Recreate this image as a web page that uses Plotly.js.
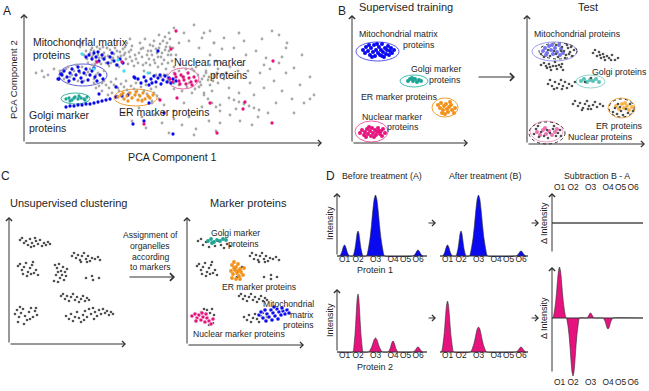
<!DOCTYPE html>
<html>
<head>
<meta charset="utf-8">
<script src="https://cdn.plot.ly/plotly-3.0.1.min.js"></script>
<style>
  html, body { margin: 0; padding: 0; background: #fff; }
  #chart { width: 649px; height: 391px; }
</style>
</head>
<body>
<div id="chart"></div>
<script>
// ---------------- Panel A: PCA of all proteins (PC1, PC2 scores) ----------------
const A_OTHER = [
  [60,88],[63,84],[66,90],[68,86],[70,92],[72,82],[74,88],[76,94],[78,85],[80,90],[82,80],[84,87],[86,93],[88,83],[90,89],[92,78],[94,86],[96,91],[98,81],[100,88],[102,84],[104,79],[106,86],[108,82],[71,79],[77,79],[85,77],[95,76],[62,92],[68,95],[83,95],[91,95],[99,94],[105,91],[110,77],[112,84],[103,100],[106,104],[108,97],[101,96],
  [64,80],[67,93],[73,96],[79,96],[87,80],[93,92],[97,87],[101,90],[89,85],[81,86],[75,85],[69,88],[107,93],[111,88],[114,80],
  [116,100],[119,95],[121,104],[124,92],[126,98],[128,88],[130,102],[132,94],[134,86],[136,99],[138,90],[140,83],[142,96],[144,88],[146,104],[145,110],[146,96],[145,92],[118,86],[122,80],[126,78],[130,83],[134,76],[138,79],[142,74],[120,72],[126,70],[132,68],[137,66],[143,68],[148,82],[150,76],[152,88],[155,72],[147,60],[115,90],
  [117,94],[123,88],[127,92],[129,97],[133,90],[135,95],[139,102],[141,93],[143,100],[137,86],[131,80],[125,84],[119,78],[144,80],[147,88],[149,95],[141,106],[135,108],
  [38,70],[42,74],[46,66],[50,72],[54,62],[58,76],[62,68],[66,74],[70,64],[74,70],[78,60],[44,60],[52,78],[60,62],[68,78],[80,72],
  [40,64],[48,68],[56,70],[64,71],[72,68],[36,72],[44,76],
  [70,60],[75,57],[80,62],[85,55],[90,58],[95,52],[100,56],[105,50],[110,54],[115,48],[120,52],[125,46],[130,50],[135,44],[78,52],[88,50],[98,48],[108,45],[118,43],[128,42],[92,64],[102,62],[112,60],[122,58],[132,56],
  [72,55],[82,58],[87,61],[94,55],[97,59],[103,53],[107,57],[113,52],[117,56],[123,49],[127,54],[133,47],[84,48],[93,47],
  [140,68],[145,62],[150,70],[155,58],[160,66],[165,60],[170,72],[175,56],[178,64],[182,70],[186,58],[190,66],[158,52],[168,50],[180,50],[188,52],[150,54],[194,60],[198,68],[172,76],[162,74],
  [176,61],[180,67],[184,63],[174,68],[168,74],[163,56],[171,54],[177,58],[185,66],[189,62],[193,70],
  [182,72],[186,78],[190,68],[194,74],[198,80],[202,70],[206,76],[210,66],[200,64],[192,82],[214,72],[218,78],
  [180,110],[190,100],[200,105],[210,95],[222,88],[232,92],[242,85],[255,80],[262,95],[270,75],[278,88],[286,66],[262,70],[250,62],[240,55],[230,48],[220,40],[212,34],[205,45],[196,38],[226,60],[236,70],[246,74],[258,52],[268,44],[276,58],[252,40],[244,30],[234,26],[228,18],[216,22],[206,28],[196,20],[270,30],[280,40],[290,48],[263,100],[255,108],[248,112],[238,104],[220,102],[215,110],[198,94],[186,88],[240,78],[224,72],[205,55],[215,50],[258,86],[286,44],
  [210,43],[215,41],[220,39],[225,37],[230,35],[235,33],[180,48],[184,44],[188,40],[192,36],[196,32],
  [100,30],[108,22],[115,35],[122,15],[130,28],[138,20],[145,10],[150,32],[158,18],[165,26],[172,14],[178,36],[185,22],[192,12],[140,38],[128,40],[160,40],[170,8],[150,24],[118,26],
  [150,115],[160,110],[170,118],[178,105],[186,112],[165,102],[155,100],[175,95],[190,100],
  [58,100],[62,104],[56,96],[12,70],[18,72],[24,68],[30,74],[20,66]
];
const A_MITO = [
  [62,86],[65,88],[68,84],[70,90],[72,86],[75,82],[78,88],[80,84],[84,80],[86,86],[90,82],[93,78],[96,84],[99,80],[74,91],[88,90],
  [38,68],[40,72],[43,66],[46,70],[48,74],[50,64],[52,68],[55,72],[57,65],[60,70],[62,74],[64,63],[66,68],[68,72],[71,66],[73,62],[76,68],[79,64],[45,62],[58,61],[35,64],[70,75],[54,76],
  [114,64],[117,60],[120,66],[122,62],[125,58],[127,64],[130,67],[132,61],[134,65],[137,59],[139,63],[141,67],[143,61],[145,65],[147,60],[149,64],[128,60],[136,68],[110,66],[152,62],
  [42,36],[46,37],[50,37],[54,38],[58,38],[62,39],[66,39],[70,40],[74,41],[78,42],[82,43],[86,44],[92,46],[98,47],[104,48],
  [109,19],[134,92],[111,65],[34,64],[37,69],[149,9],[75,49],[92,56],[125,40],[140,30],[120,22]
];
const A_CYAN = [[58,89],[94,83],[70,74],[124,70],[150,60],[100,72]];
const A_GOLGI = [[42,44],[45,45],[48,43],[51,46],[54,44],[57,45],[60,44],[63,46],[46,42],[55,47],[50,45],[61,43]];
const A_ER = [[94,46],[97,48],[100,44],[103,47],[106,50],[108,45],[111,48],[114,43],[116,47],[119,50],[121,44],[124,47],[126,45],[129,48],[104,42],[112,51],[118,42],[99,50]];
const A_NUCLEAR = [
  [146,64],[149,61],[152,66],[155,62],[157,68],[160,63],[162,59],[165,65],[167,61],[170,66],[172,62],[151,69],[159,66],[164,70],[168,58],[156,59],
  [152,112],[147,94],[249,82],[221,41],[219,34],[193,10],[120,19],[98,81],[73,81],[136,43],[186,40],[153,45],[248,20]
];

// ---------------- Panel B: supervised training / test ----------------
const B_TRAIN_MITO = [[11,93],[13,90],[14,96],[16,92],[18,88],[19,95],[21,91],[22,98],[23,87],[24,93],[26,90],[27,96],[28,88],[29,93],[30,99],[31,91],[32,86],[33,95],[34,89],[35,93],[36,97],[37,88],[38,92],[39,95],[40,90],[42,93],[25,99],[20,86],[30,87],[17,98]];
const B_TRAIN_GOLGI = [[56,62],[58,64],[61,62],[63,64],[65,61],[67,63],[69,62],[60,65]];
const B_TRAIN_ER = [[86,38],[88,35],[89,40],[91,33],[92,37],[94,39],[95,34],[96,31],[97,36],[99,38],[100,33],[102,30],[103,35],[90,30],[93,29],[98,41]];
const B_TRAIN_NUCLEAR = [[8,10],[10,13],[12,8],[13,11],[15,14],[16,9],[18,12],[19,7],[20,15],[21,10],[23,13],[24,8],[25,11],[26,15],[28,9],[29,12],[30,7],[31,14],[33,10],[17,16],[22,6],[27,12],[14,6]];

const B_TEST_UNKNOWN = [
  [14,90],[17,87],[21,94],[23,88],[27,93],[29,99],[31,87],[35,97],[37,93],[39,89],[41,96],[43,92],[45,88],[47,94],[40,99],[44,97],[38,86],[29,90],[34,93],[42,90],
  [14,79],[17,81],[20,76],[22,80],[24,74],[26,78],[28,82],[30,75],[32,79],[34,77],[36,74],[23,77],[29,78],[19,78],[35,80],
  [66,91],[68,94],[70,88],[72,92],[74,86],[76,90],[78,84],[80,88],[82,86],[85,89],[88,84],[91,86],[73,89],[77,87],[84,84],
  [58,62],[64,66],
  [21,60],[23,64],[25,58],[28,62],[30,56],[32,60],[34,64],[36,58],[38,62],[40,56],[42,60],[45,58],[48,62],[27,55],[35,55],
  [46,40],[48,43],[51,38],[53,41],[56,36],[58,40],[60,43],[62,38],[64,35],[66,39],[68,42],[70,37],[73,40],[76,38],[55,34],[61,35],
  [86,32],[88,36],[91,40],[94,33],[96,29],[99,35],[101,31],[103,40],[106,33],[93,37],[90,30],
  [7,10],[9,15],[12,7],[14,12],[17,8],[20,14],[23,11],[26,15],[29,8],[31,11],[33,14],[34,8],[21,6],[11,18],[27,18]
];
const B_TEST_MITO = [[16,93],[18,96],[20,91],[22,98],[24,94],[26,90],[28,96],[30,92],[32,99],[34,95],[36,91],[25,99],[19,89],[33,89]];
const B_TEST_GOLGI = [[54,63],[57,65],[60,62],[63,64],[66,63],[69,65],[72,62]];
const B_TEST_ER = [[89,38],[92,35],[95,40],[97,36],[100,38],[102,34],[105,37],[98,41]];
const B_TEST_NUCLEAR = [[10,12],[13,9],[16,14],[19,10],[22,13],[25,9],[28,12],[30,15],[18,16]];

// ---------------- Panel C: unsupervised clustering ----------------
const C_CLUSTERS = [
  [11,104],[13,106],[15,101],[17,103],[19,99],[21,105],[23,101],[25,98],[27,103],[29,100],[31,104],[33,98],[35,101],[37,99],[39,102],[41,100],[26,106],[22,97],
  [9,78],[11,80],[13,74],[15,77],[17,81],[19,72],[21,76],[23,79],[25,71],[27,74],[29,69],[18,68],[22,70],[14,70],[24,82],
  [46,79],[48,76],[50,80],[52,73],[54,77],[56,72],[47,69],[49,72],[51,66],[53,69],[55,64],[57,68],[45,63],[58,75],[49,62],
  [63,88],[65,91],[67,86],[69,89],[71,84],[73,88],[75,91],[77,85],[79,88],[81,83],[83,86],[86,85],[89,87],[91,84],[72,82],[78,82],
  [77,66],[83,68],[84,64],[90,66],
  [52,48],[54,50],[56,45],[58,48],[60,43],[62,47],[64,50],[66,44],[68,47],[70,42],[72,45],[74,48],[76,43],[78,46],[80,44],
  [6,30],[8,34],[10,27],[12,31],[14,35],[16,28],[18,24],[20,32],[22,36],[24,27],[26,33],[28,29],[9,22],[15,20],[21,25],[27,36],[11,37],
  [57,28],[60,25],[62,30],[64,23],[66,27],[68,32],[70,26],[72,22],[74,29],[76,33],[78,27],[80,35],[82,30],[84,36],[86,32],[88,28],[90,34],[92,30],[94,35],[96,31],[98,33],[100,29],[102,32],[104,30],[75,24],[85,25]
];
const C_UNASSIGNED = [
  [11,104],[14,106],[16,100],[19,103],[22,98],[25,102],[28,99],[31,104],[34,100],[37,97],[40,101],[43,99],
  [63,89],[65,92],[67,86],[69,90],[71,85],[73,89],[75,92],[77,86],[79,89],[81,84],[83,87],[86,86],[89,88],[92,85],[72,83],[78,83],
  [10,79],[12,81],[14,75],[16,78],[18,82],[20,73],[22,77],[24,80],[26,72],[28,75],[30,70],[19,69],[23,71],[15,71],[25,83],
  [55,78],[50,68],[77,68],[84,70],[84,66],[90,68],
  [52,49],[54,51],[56,46],[58,49],[60,44],[62,48],[64,51],[66,45],[68,48],[70,43],[72,46],[74,49],[76,44],[78,47],[80,45],
  [57,28],[60,25],[62,30],[64,23],[66,27],[68,31],[70,26],[72,23],[74,29],[76,32],[78,25],[80,28],
  [14,33],[17,36],[20,35],[23,32],[25,36],[27,30],[22,20],[26,22]
];
const C_GOLGI = [[21,104],[24,106],[27,103],[30,105],[33,104],[36,106],[39,105],[25,102]];
const C_ER = [[45,80],[47,83],[49,78],[51,81],[53,76],[44,74],[46,71],[48,75],[50,72],[52,69],[54,73],[56,70],[45,67],[49,66],[53,66],[57,77],[47,77],[51,74]];
const C_MITO = [[72,30],[74,33],[76,27],[78,35],[80,31],[82,28],[84,35],[86,32],[88,29],[90,36],[92,33],[94,30],[96,34],[98,31],[100,35],[102,32],[85,25],[91,26],[79,24],[87,38],[95,37]];
const C_NUCLEAR = [[5,29],[8,31],[10,27],[12,30],[14,25],[16,28],[18,23],[20,27],[22,24],[24,21],[9,24],[15,32],[26,26],[19,31]];

// ---------------- Panel D: fraction profiles ----------------
const ORGANELLES = ['O1', 'O2', 'O3', 'O4', 'O5', 'O6'];
const FRACTION_POS = [7.5, 21, 38.5, 56, 68.5, 81];
const P1_BEFORE = [11, 25, 61, 0, 0, 6];
const P1_AFTER  = [11, 25, 61, 0, 0, 5];
const P1_DELTA  = [0, 0, 0, 0, 0, 0];
const P2_BEFORE = [0, 58, 14, 11, 0, 5];
const P2_AFTER  = [51, 0, 25, 0, 0, 5];
const P2_DELTA  = [51, -58, 5, -11, 0, 0];
const P1_WIDTH  = [5, 5, 9, 0, 0, 5];
const P2_WIDTH_BEFORE = [0, 5, 7, 5, 0, 5];
const P2_WIDTH_AFTER  = [6, 0, 8, 0, 0, 5];
const P2_WIDTH_DELTA  = [6.5, 6.5, 4, 5, 0, 0];

// ---------------- drawing ----------------
const W = 649, H = 391;
const FONT = 'Liberation Sans, Arial, sans-serif';
const INK = '#1e1e1e';
const BLUE = '#0a0af0', PINK = '#e6137f', ORANGE = '#f2921c', TEAL = '#1ea595', CYAN = '#3fe0ee';

const xdom = (a, b) => [a / W, b / W];
const ydom = (top, bot) => [1 - bot / H, 1 - top / H];
const sfx = n => (n === 1 ? '' : String(n));

const traces = [];
function dots(n, pts, color, size, lineColor) {
  traces.push({
    type: 'scatter', mode: 'markers',
    x: pts.map(p => p[0]), y: pts.map(p => p[1]),
    xaxis: 'x' + sfx(n), yaxis: 'y' + sfx(n),
    marker: { color: color, size: size, line: { width: lineColor ? 0.6 : 0, color: lineColor || color } },
    hoverinfo: 'skip'
  });
}

// Peak outline shape (relative to peak height, x in half-widths)
const PEAK_DX = [-1, -0.8, -0.6, -0.45, -0.3, -0.15, 0, 0.15, 0.3, 0.45, 0.6, 0.8, 1];
const PEAK_PROFILE = [0, 0.115, 0.3, 0.5, 0.74, 0.93, 1, 0.93, 0.74, 0.5, 0.3, 0.115, 0];
function profile(n, heights, widths, color, xEnd) {
  const xs = [0], ys = [0];
  heights.forEach((h, i) => {
    if (!h) return;
    PEAK_DX.forEach((d, k) => { xs.push(FRACTION_POS[i] + d * widths[i]); ys.push(h * PEAK_PROFILE[k]); });
  });
  xs.push(xEnd); ys.push(0);
  traces.push({
    type: 'scatter', mode: 'lines', x: xs, y: ys,
    xaxis: 'x' + sfx(n), yaxis: 'y' + sfx(n),
    fill: 'tozeroy', fillcolor: color,
    line: { color: '#2a2a2a', width: 0.6, shape: 'spline', smoothing: 0.5 },
    hoverinfo: 'skip'
  });
}

// Panel A
dots(1, A_OTHER, '#a8a8a8', 2.8);
dots(1, A_MITO, BLUE, 3.3);
dots(1, A_CYAN, CYAN, 3.3);
dots(1, A_GOLGI, TEAL, 3.3);
dots(1, A_ER, ORANGE, 3.3);
dots(1, A_NUCLEAR, PINK, 3.3);
// Panel B
dots(2, B_TRAIN_MITO, BLUE, 4);
dots(2, B_TRAIN_GOLGI, TEAL, 4);
dots(2, B_TRAIN_ER, ORANGE, 4);
dots(2, B_TRAIN_NUCLEAR, PINK, 4);
dots(3, B_TEST_MITO, '#7474f2', 4);
dots(3, B_TEST_GOLGI, '#56c4b8', 4);
dots(3, B_TEST_ER, '#f7b64c', 4);
dots(3, B_TEST_NUCLEAR, '#f070b2', 4);
dots(3, B_TEST_UNKNOWN, '#505050', 2.7);
// Panel C
dots(4, C_CLUSTERS, '#505050', 2.6);
dots(5, C_UNASSIGNED, '#505050', 2.6);
dots(5, C_GOLGI, TEAL, 3.8);
dots(5, C_ER, ORANGE, 3.8);
dots(5, C_MITO, BLUE, 4.2, '#ffffff');
dots(5, C_NUCLEAR, PINK, 4.2, '#ffffff');
// Panel D
profile(6, P1_BEFORE, P1_WIDTH, BLUE, 90);
profile(7, P2_BEFORE, P2_WIDTH_BEFORE, PINK, 90);
profile(8, P1_AFTER, P1_WIDTH, BLUE, 88);
profile(9, P2_AFTER, P2_WIDTH_AFTER, PINK, 88);
profile(10, P1_DELTA, P1_WIDTH, BLUE, 91);
profile(11, P2_DELTA, P2_WIDTH_DELTA, PINK, 91);

// subplot frames: [left px, right px, top px, bottom px, x range, y range]
const frames = {
  1: [23, 323, 13, 144, [-1, 299], [-1, 130]],
  2: [351, 469, 14, 144, [-1, 117], [-1, 129]],
  3: [526, 646, 14, 145, [-1, 119], [-1, 130]],
  4: [8, 127, 216, 345, [-1, 118], [-1, 128]],
  5: [186, 305, 216, 346, [-1, 118], [-1, 129]],
  6: [336, 428, 192, 257, [-1, 91], [-1, 64]],
  7: [336, 428, 288, 353, [-1, 91], [-1, 64]],
  8: [439, 529, 192, 257, [-1, 89], [-1, 64]],
  9: [439, 529, 288, 353, [-1, 89], [-1, 64]],
  10: [551, 644, 192, 254, [-1, 92], [-31, 31]],
  11: [551, 644, 266, 376.5, [-1, 92], [-58.5, 52]]
};

const layout = {
  width: W, height: H,
  margin: { l: 0, r: 0, t: 0, b: 0 },
  paper_bgcolor: '#ffffff', plot_bgcolor: 'rgba(0,0,0,0)',
  showlegend: false, hovermode: false,
  font: { family: FONT, color: INK },
  shapes: [], annotations: []
};
Object.keys(frames).forEach(k => {
  const n = +k, f = frames[k];
  const xa = {
    domain: xdom(f[0], f[1]), range: f[4], anchor: 'y' + sfx(n),
    showgrid: false, zeroline: false, showline: false, fixedrange: true, visible: false
  };
  if (n >= 6) {
    Object.assign(xa, {
      visible: true, ticks: '', tickvals: FRACTION_POS, ticktext: ORGANELLES, tickangle: 0,
      tickfont: { size: 8.4, color: INK, family: FONT }, ticklabelstandoff: n >= 10 ? -1 : -4
    });
    if (n === 10) xa.side = 'top';
  }
  layout['xaxis' + sfx(n)] = xa;
  layout['yaxis' + sfx(n)] = {
    domain: ydom(f[2], f[3]), range: f[5], anchor: 'x' + sfx(n),
    showgrid: false, zeroline: false, showline: false, fixedrange: true, visible: false
  };
});

// axis arrows drawn on each subplot's own scale
function axisArrow(n, x0, y0, x1, y1) {
  layout.annotations.push({
    xref: 'x' + sfx(n), yref: 'y' + sfx(n), axref: 'x' + sfx(n), ayref: 'y' + sfx(n),
    x: x1, y: y1, ax: x0, ay: y0, text: '', showarrow: true,
    arrowhead: 4, arrowsize: 1.2, arrowwidth: 1, arrowcolor: '#333', standoff: 0
  });
}
function axisLine(n, x0, y0, x1, y1) {
  layout.shapes.push({
    type: 'line', xref: 'x' + sfx(n), yref: 'y' + sfx(n),
    x0: x0, y0: y0, x1: x1, y1: y1, line: { color: '#333', width: 1 }
  });
}
axisArrow(1, 0, 0, 0, 129); axisArrow(1, 0, 0, 298, 0);
axisArrow(2, 0, 0, 0, 128); axisArrow(2, 0, 0, 116, 0);
axisArrow(3, 0, 0, 0, 129); axisArrow(3, 0, 0, 118, 0);
axisArrow(4, 0, 0, 0, 127); axisArrow(4, 0, 0, 117, 0);
axisArrow(5, 0, 0, 0, 128); axisArrow(5, 0, 0, 117, 0);
axisArrow(6, 0, 0, 0, 63); axisLine(6, 0, 0, 90, 0);
axisArrow(7, 0, 0, 0, 63); axisLine(7, 0, 0, 90, 0);
axisLine(8, 0, 0, 88, 0);
axisLine(9, 0, 0, 88, 0);
axisArrow(10, 0, -30, 0, 30); axisLine(10, 0, 0, 91, 0);
axisArrow(11, 0, -55, 0, 51); axisLine(11, 0, 0, 91, 0);

// cluster outlines
function ring(n, x0, x1, y0, y1, color, dash) {
  layout.shapes.push({
    type: 'circle', layer: 'below', xref: 'x' + sfx(n), yref: 'y' + sfx(n),
    x0: x0, x1: x1, y0: y0, y1: y1,
    line: { color: color, width: 1, dash: dash || 'solid' }
  });
}
ring(1, 35, 83, 57, 79, '#6262e2');
ring(1, 37, 66, 39, 50, '#3db5a5');
ring(1, 90, 133, 37, 54, '#f0a030');
ring(1, 143, 175, 54, 75, '#ee6aa5');
ring(2, 4, 47, 82, 101, '#5555ee');
ring(2, 48, 76, 56, 68, '#40bfb0');
ring(2, 80, 106, 26, 45, '#f5a030');
ring(2, 3, 36, 1, 22, '#f060a8');
ring(3, 5, 50, 83, 102, '#9a9af0');
ring(3, 12, 50, 85, 101, '#333', 'dot');
ring(3, 49, 78, 56, 69, '#8fd5cc');
ring(3, 81, 108, 26, 46, '#f5b050');
ring(3, 82, 107, 27, 45, '#333', 'dot');
ring(3, 3, 36, 2, 23, '#f5a0c8');
ring(3, 2, 38, 0, 22, '#333', 'dot');

// free arrows between panels (paper position, length in px)
function flowArrow(xTip, yTip, len, size) {
  layout.annotations.push({
    xref: 'paper', yref: 'paper', x: xTip / W, y: 1 - yTip / H,
    ax: -len, ay: 0, text: '', showarrow: true,
    arrowhead: 4, arrowsize: size, arrowwidth: 1, arrowcolor: '#333', standoff: 0
  });
}
flowArrow(515, 77, 38, 1.5);
flowArrow(175, 277, 47, 1.5);
flowArrow(436, 223, 9, 1.2);
flowArrow(436, 318, 9, 1.2);
flowArrow(539, 223, 9, 1.2);
flowArrow(539, 318, 9, 1.2);

// text
function label(text, x, y, size, anchor, angle) {
  layout.annotations.push({
    xref: 'paper', yref: 'paper', x: x / W, y: 1 - y / H,
    text: text, showarrow: false, xanchor: anchor || 'left', yanchor: 'middle',
    textangle: angle || 0, font: { size: size, color: INK, family: FONT }, borderpad: 0
  });
}
label('A', 7, 11, 12, 'center');
label('B', 342, 11, 12, 'center');
label('C', 5, 176, 12, 'center');
label('D', 330, 176, 12, 'center');

label('Mitochondrial matrix', 32, 42, 10.5);
label('proteins', 32, 55, 10.5);
label('Nuclear marker', 173, 62, 10.5);
label('proteins', 248, 75, 10.5, 'right');
label('Golgi marker', 28, 115, 10.5);
label('proteins', 28, 128, 10.5);
label('ER marker proteins', 118, 112, 10.5);
label('PCA Component 1', 172, 157, 10.7, 'center');
label('PCA Component 2', 14, 80, 9.5, 'center', -90);

label('Supervised training', 358, 7, 11);
label('Test', 588, 7, 11, 'center');
label('Mitochondrial matrix', 358, 34, 8.8);
label('proteins', 436, 45, 8.8, 'right');
label('Golgi marker', 462, 69, 8.8, 'right');
label('proteins', 462, 80, 8.8, 'right');
label('ER marker proteins', 360, 97, 8.8);
label('Nuclear marker', 361, 117, 8.8);
label('proteins', 420, 127, 8.8, 'right');
label('Mitochondrial proteins', 533, 34, 8.8);
label('Golgi proteins', 591, 72, 8.8);
label('ER proteins', 644, 126, 8.8, 'right');
label('Nuclear proteins', 567, 137, 8.8);

label('Unsupervised clustering', 9, 203, 11);
label('Marker proteins', 248, 203, 11, 'center');
label('Assignment of', 150, 235, 8.6, 'center');
label('organelles', 150, 246, 8.6, 'center');
label('according', 150, 257, 8.6, 'center');
label('to markers', 150, 267, 8.6, 'center');
label('Golgi marker', 210, 233, 8.6);
label('proteins', 260, 244, 8.6, 'right');
label('ER marker proteins', 221, 287, 8.6);
label('Mitochondrial', 315, 304, 8.6, 'right');
label('matrix', 315, 315, 8.6, 'right');
label('proteins', 315, 325, 8.6, 'right');
label('Nuclear marker proteins', 192, 334, 8.6);

label('Before treatment (A)', 382, 176, 8.8, 'center');
label('After treatment (B)', 485, 176, 8.8, 'center');
label('Subtraction B - A', 597, 176, 8.8, 'center');
label('Protein 1', 375, 270, 9, 'center');
label('Protein 2', 375, 367, 9, 'center');
label('Intensity', 330, 223, 9, 'center', -90);
label('Intensity', 330, 320, 9, 'center', -90);
label('\u0394 Intensity', 544, 223, 9, 'center', -90);
label('\u0394 Intensity', 544, 318, 9, 'center', -90);

Plotly.newPlot('chart', traces, layout, { staticPlot: true, displayModeBar: false });
</script>
</body>
</html>
